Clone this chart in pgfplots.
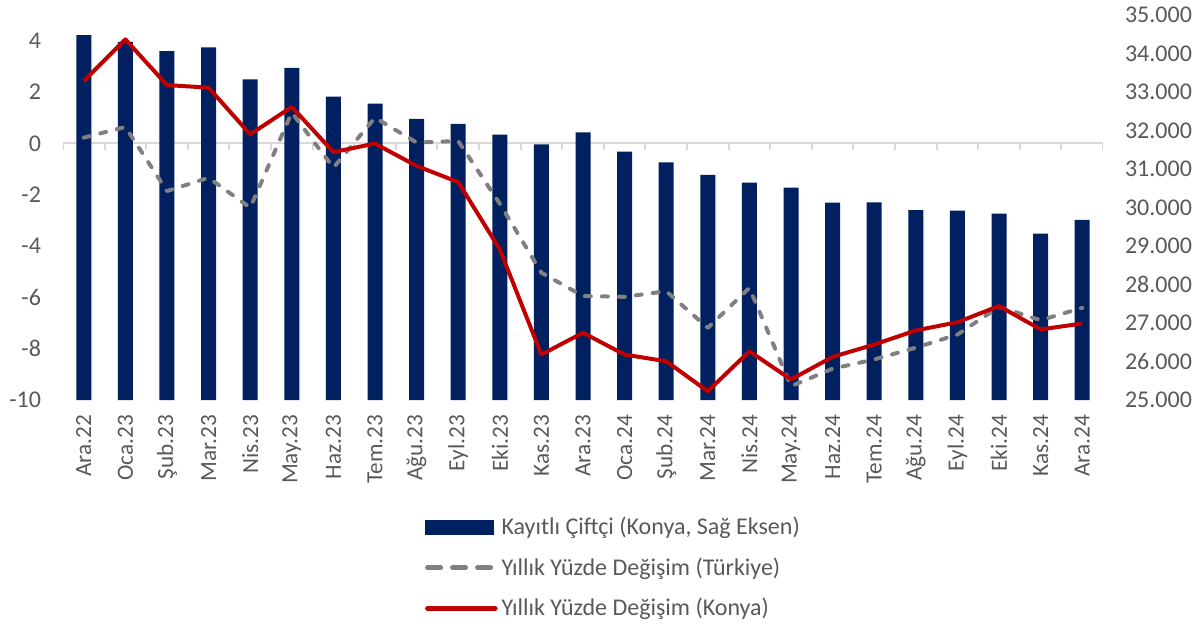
\documentclass[border=0pt]{standalone}
\usepackage{pgfplots}
\usepackage{pgfplotstable}
\pgfplotsset{compat=1.18}
\usepackage{fontspec}
\setmainfont{Carlito}
\definecolor{navy}{HTML}{002060}
\definecolor{dred}{HTML}{C00000}
\definecolor{lgray}{HTML}{808080}
\definecolor{txt}{HTML}{595959}
\definecolor{axgray}{HTML}{D9D9D9}

\pgfplotstableread{
x bar tr ko
0 34480 0.22 2.43
1 34300 0.64 4.05
2 34065 -1.86 2.27
3 34160 -1.34 2.17
4 33330 -2.51 0.35
5 33630 1.20 1.42
6 32880 -0.95 -0.34
7 32700 1.00 -0.01
8 32300 0.03 -0.88
9 32170 0.09 -1.51
10 31890 -2.35 -4.13
11 31640 -5.04 -8.23
12 31950 -5.95 -7.38
13 31450 -5.98 -8.23
14 31170 -5.76 -8.49
15 30850 -7.19 -9.66
16 30645 -5.63 -8.10
17 30515 -9.46 -9.20
18 30125 -8.78 -8.32
19 30135 -8.42 -7.84
20 29930 -7.96 -7.29
21 29920 -7.45 -6.97
22 29840 -6.37 -6.34
23 29320 -6.89 -7.25
24 29680 -6.41 -7.02
}\data

\begin{document}
\begin{tikzpicture}[font=\fontsize{12}{14}\selectfont]
\useasboundingbox (-31.5pt,-111.5pt) rectangle (568.5pt,200pt);
\begin{axis}[
  at={(0,0)}, anchor=south west, scale only axis,
  width=520pt, height=192.5pt,
  xmin=-0.5, xmax=24.5, ymin=25000, ymax=35000,
  axis y line*=right, axis x line*=bottom,
  axis line style={draw=none},
  ytick={25000,26000,...,35000},
  scaled y ticks=false,
  /pgf/number format/1000 sep={.},
  /pgf/number format/assume math mode=true,
  xtick={0,...,24},
  xticklabels={Ara.22,Oca.23,Şub.23,Mar.23,Nis.23,May.23,Haz.23,Tem.23,Ağu.23,Eyl.23,Eki.23,Kas.23,Ara.23,Oca.24,Şub.24,Mar.24,Nis.24,May.24,Haz.24,Tem.24,Ağu.24,Eyl.24,Eki.24,Kas.24,Ara.24},
  x tick label style={rotate=90, anchor=east, text=txt, font=\fontsize{11.6}{13}\selectfont},
  xticklabel shift=4pt,
  y tick label style={text=txt, anchor=west, xshift=7.5pt},
  major tick length=0pt,
  legend style={at={(0.342,-0.282)}, anchor=north west, draw=none, fill=none,
    font=\fontsize{12}{14}\selectfont, text=txt, row sep=6pt,
    /tikz/every even column/.append style={column sep=2pt}},
  legend cell align=left,
]
\draw[axgray, line width=1pt] (axis cs:-0.5,31666.67) -- (axis cs:24.5,31666.67);
\pgfplotsinvokeforeach{0,...,25}{
  \draw[axgray, line width=1pt] (axis cs:#1-0.5,31666.67) -- ++(0pt,-3.5pt);
}
\addplot[ybar, bar width=7.5pt, fill=navy, draw=none,
  legend image code/.code={\fill[navy] (0pt,-3.75pt) rectangle (34.5pt,3.75pt);}]
  table[x=x, y=bar] {\data};
\addlegendentry{Kayıtlı Çiftçi (Konya, Sağ Eksen)}
\addlegendimage{legend image code/.code={\draw[lgray, line width=2.5pt, dash pattern=on 6.5pt off 6pt, line cap=round] (1.25pt,0pt) -- (32.75pt,0pt);}}
\addlegendentry{Yıllık Yüzde Değişim (Türkiye)}
\addlegendimage{legend image code/.code={\draw[dred, line width=2.5pt, line cap=round] (1.25pt,0pt) -- (35pt,0pt);}}
\addlegendentry{Yıllık Yüzde Değişim (Konya)}
\end{axis}
\begin{axis}[
  at={(0,0)}, anchor=south west, scale only axis,
  width=520pt, height=192.5pt,
  xmin=-0.5, xmax=24.5, ymin=-10, ymax=5,
  axis y line*=left, axis x line=none,
  axis line style={draw=none},
  ytick={-10,-8,...,4},
  /pgf/number format/assume math mode=true,
  y tick label style={text=txt, xshift=-7.5pt},
  major tick length=0pt,
]
\addplot[lgray, line width=2pt, dash pattern=on 3pt off 5.5pt, line cap=round, line join=round, mark=none]
  table[x=x, y=tr] {\data};
\addplot[dred, line width=2pt, line join=round, mark=none]
  table[x=x, y=ko] {\data};
\end{axis}
\end{tikzpicture}
\end{document}
